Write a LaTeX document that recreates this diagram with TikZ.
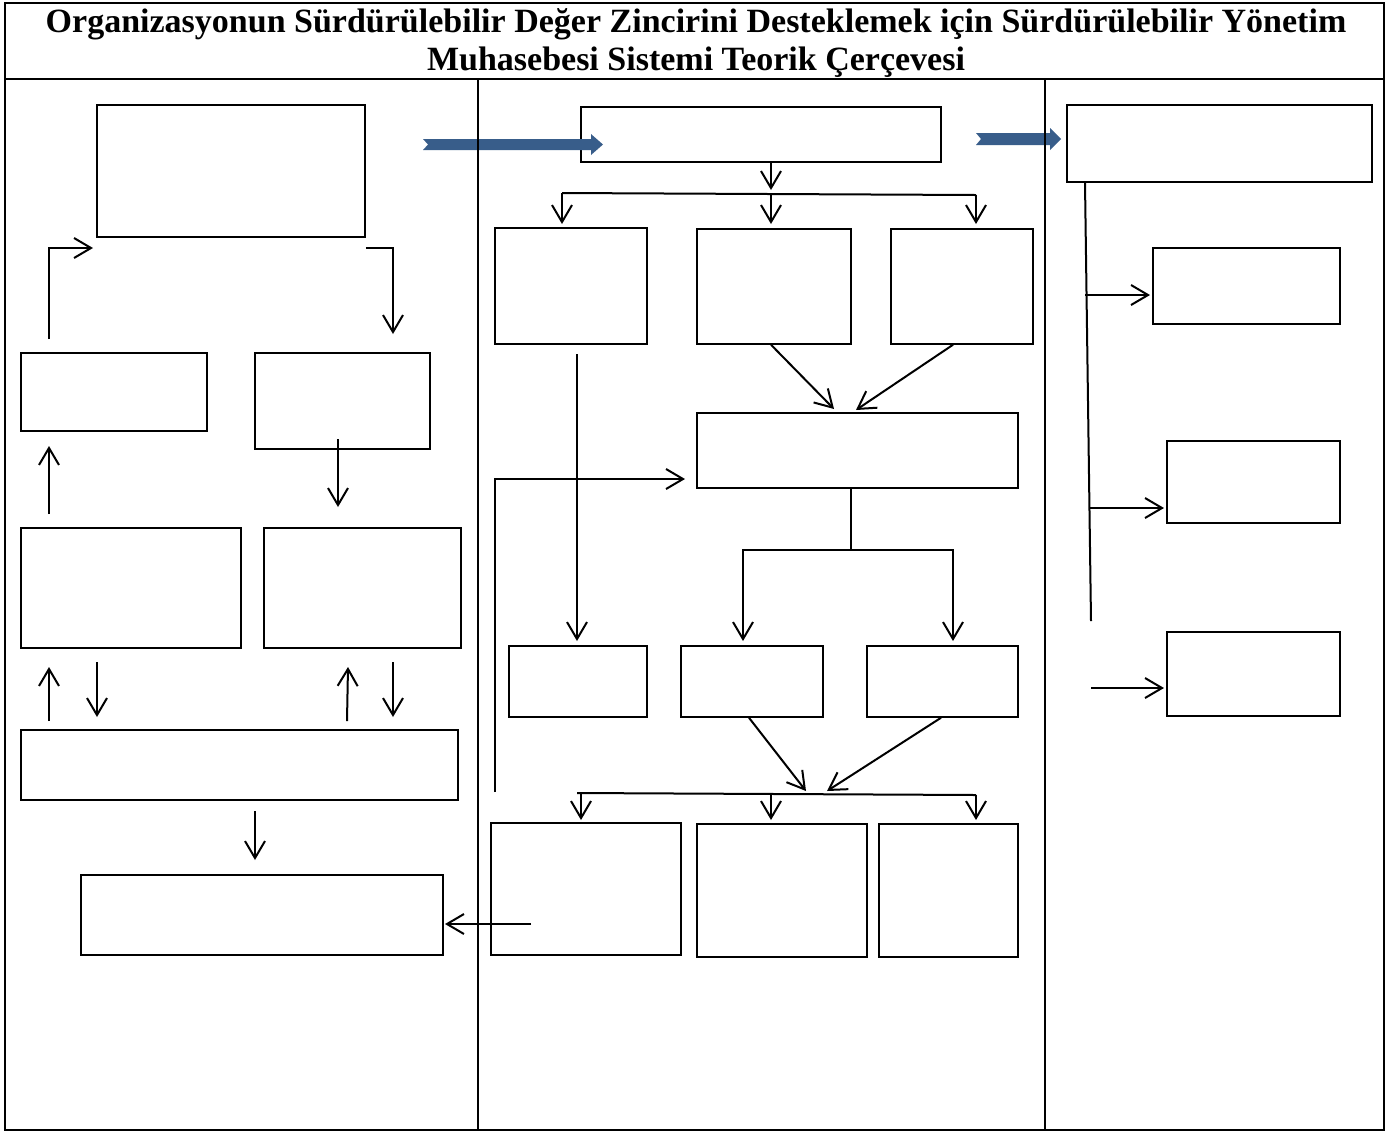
\documentclass[tikz,border=0pt]{standalone}
\usepackage{fontspec}
\setmainfont{Liberation Serif}
\usetikzlibrary{arrows.meta,fit,calc}
\definecolor{arrowblue}{RGB}{56,93,138}
\begin{document}
\begin{tikzpicture}[x=0.5pt,y=-0.5pt,
  bx/.style={draw, line width=0.75pt, inner sep=0pt},
  con/.style={line width=1pt, -{Straight Barb[length=8.5pt,width=10pt]}},
  ln/.style={line width=1pt},
  tbl/.style={line width=1.25pt},
  blue/.style={fill=arrowblue, draw=none},
  ttl/.style={anchor=base, inner sep=0pt, font=\fontsize{17pt}{19pt}\selectfont\bfseries}]
\useasboundingbox (0,0) rectangle (1387,1131);

% title
\node[ttl] (t1) at (696,32) {Organizasyonun Sürdürülebilir Değer Zincirini Desteklemek için Sürdürülebilir Yönetim};
\node[ttl] (t2) at (696,70) {Muhasebesi Sistemi Teorik Çerçevesi};

% left column boxes
\node[bx, fit={(97,105)(365,237)}] (A) {};
\node[bx, fit={(21,353)(207,431)}] (B) {};
\node[bx, fit={(255,353)(430,449)}] (C) {};
\node[bx, fit={(21,528)(241,648)}] (D) {};
\node[bx, fit={(264,528)(461,648)}] (E) {};
\node[bx, fit={(21,730)(458,800)}] (F) {};
\node[bx, fit={(81,875)(443,955)}] (G) {};

% middle column boxes
\node[bx, fit={(581,107)(941,162)}] (H) {};
\node[bx, fit={(495,228)(647,344)}] (I1) {};
\node[bx, fit={(697,229)(851,344)}] (I2) {};
\node[bx, fit={(891,229)(1033,344)}] (I3) {};
\node[bx, fit={(697,413)(1018,488)}] (J) {};
\node[bx, fit={(509,646)(647,717)}] (K1) {};
\node[bx, fit={(681,646)(823,717)}] (K2) {};
\node[bx, fit={(867,646)(1018,717)}] (K3) {};
\node[bx, fit={(491,823)(681,955)}] (L1) {};
\node[bx, fit={(697,824)(867,957)}] (L2) {};
\node[bx, fit={(879,824)(1018,957)}] (L3) {};

% right column boxes
\node[bx, fit={(1067,105)(1372,182)}] (M) {};
\node[bx, fit={(1153,248)(1340,324)}] (N1) {};
\node[bx, fit={(1167,441)(1340,523)}] (N2) {};
\node[bx, fit={(1167,632)(1340,716)}] (N3) {};

% left column connectors
\coordinate (bU) at (49,339);
\draw[con] (bU) |- (93,248);
\draw[con] (A.east |- 0,248) -| (393,334);
\draw[con] (49,514) -- (49,446);
\draw[con] (338,439) -- (338,507);
\draw[con] (49,721) -- (49,667);
\draw[con] (97,662) -- (97,717);
\draw[con] (347,721) -- (348,667);
\draw[con] (393,662) -- (393,717);
\draw[con] (255,811) -- (255,860);
\coordinate (gIn) at (531,924);
\draw[con] (gIn) -- (445,924);

% middle column connectors
\draw[con] (771,0 |- H.south) -- (771,190);
\draw[ln] (562,193) -- (976,195);
\draw[con] (562,193) -- (562,224);
\draw[con] (771,194) -- (771,224);
\draw[con] (976,195) -- (976,224);
\draw[con] (771,0 |- I2.south) -- (834,409);
\draw[con] (953,0 |- I3.south) -- (856,410);
\draw[con] (577,354) -- (577,641);
\draw[con] (495,792) |- (685,479);
\coordinate (jS) at (851,550);
\draw[ln] (851,0 |- J.south) -- (jS);
\draw[con] (jS) -| (743,641);
\draw[con] (jS) -| (953,641);
\draw[con] (749,0 |- K2.south) -- (806,791);
\draw[con] (941,0 |- K3.south) -- (827,791);
\draw[ln] (577,793) -- (976,795);
\draw[con] (581,793) -- (581,820);
\draw[con] (771,794) -- (771,820);
\draw[con] (976,795) -- (976,820);

% right column connectors
\draw[ln] (1085,0 |- M.south) -- (1091,621);
\draw[con] (1085,295) -- (1150,295);
\draw[con] (1090,508) -- (1164,508);
\draw[con] (1091,688) -- (1164,688);

% blue block arrows
\fill[blue] (423,139) -- (591,139) -- (591,134) -- (603,144.5) -- (591,155) -- (591,150) -- (423,150) -- (428,144.5) -- cycle;
\fill[blue] (976,133) -- (1050,133) -- (1050,128) -- (1061,139) -- (1050,150) -- (1050,145) -- (976,145) -- (981,139) -- cycle;

% table frame
\draw[tbl] (5,3) rectangle (1384,1130);
\draw[tbl] (5,79) -- (1384,79);
\draw[tbl] (478,79) -- (478,1130);
\draw[tbl] (1045,79) -- (1045,1130);
\end{tikzpicture}
\end{document}
